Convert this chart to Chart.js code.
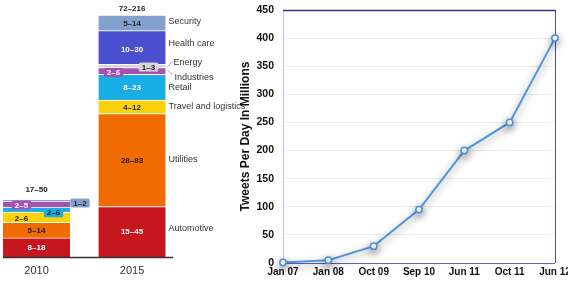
<!DOCTYPE html>
<html><head><meta charset="utf-8">
<script src="https://cdn.jsdelivr.net/npm/chart.js@4/dist/chart.umd.min.js"></script>
<style>
html,body{margin:0;padding:0;background:#fff;width:568px;height:284px;overflow:hidden}
#left{position:absolute;left:0;top:0}
#right{position:absolute;left:230px;top:0}
</style></head><body>
<canvas id="left" width="250" height="284"></canvas>
<canvas id="right" width="338" height="284"></canvas>
<script>
// ---------- Data: left stacked bar chart ----------
const years = ['2010', '2015'];
const industries = ['Automotive', 'Utilities', 'Travel and logistics', 'Retail', 'Industries', 'Energy', 'Health care', 'Security'];
const automotive = [17, 45];
const utilities = [14, 83];
const travel = [9, 12];
const retail = [4.5, 23];
const industriesVals = [5.5, 6];
const energy = [null, 3];
const healthCare = [null, 30];
const security = [1, 14];
const rangeLabels2010 = ['8–18', '5–14', '2–6', '2–6', '2–5', null, null, '1–2'];
const rangeLabels2015 = ['15–45', '28–83', '4–12', '8–23', '2–6', '1–3', '10–30', '5–14'];
const totalLabels = ['17–50', '72–216'];

// ---------- Data: right line chart ----------
const months = ['Jan 07', 'Jan 08', 'Oct 09', 'Sep 10', 'Jun 11', 'Oct 11', 'Jun 12'];
const tweetsPerDay = [1, 5, 30, 95, 200, 250, 400];
const yAxisTitle = 'Tweets Per Day In Millions';

// ---------- Left chart ----------
const FONT = '"Liberation Sans", Arial, Helvetica, sans-serif';
const series = [automotive, utilities, travel, retail, industriesVals, energy, healthCare, security];
const colors = ['#c8161e', '#f06c00', '#fdd20a', '#1aaee6', '#a650b4', '#d6d6d6', '#4b4fcf', '#84a1cd'];
const textColors = ['#fff', '#222', '#222', '#fff', '#fff', '#222', '#fff', '#222'];
const rangeLabels = [rangeLabels2010, rangeLabels2015];

// style tweaks for individual labels: key "dataset-year"
const labelStyle = {
  '2-0': {dx: -15, dy: 1},
  '3-0': {dx: 17, dy: 3, box: true, text: '#222'},
  '4-0': {dx: -15, dy: 1, box: true},
  '7-0': {outside: true, dy: 2.5, box: true},
  '4-1': {dx: -18.5, dy: 1.5, box: true},
  '5-1': {dx: 16.5, dy: 1, box: true, boxColor: '#d4d4d4'},
  '6-1': {dy: 1.5}
};
const sideOffsets = {0: -3, 1: -1, 2: 0, 3: 0, 6: -4, 7: -1};

function roundRect(ctx, x, y, w, h, r) {
  ctx.beginPath();
  ctx.moveTo(x + r, y);
  ctx.lineTo(x + w - r, y); ctx.quadraticCurveTo(x + w, y, x + w, y + r);
  ctx.lineTo(x + w, y + h - r); ctx.quadraticCurveTo(x + w, y + h, x + w - r, y + h);
  ctx.lineTo(x + r, y + h); ctx.quadraticCurveTo(x, y + h, x, y + h - r);
  ctx.lineTo(x, y + r); ctx.quadraticCurveTo(x, y, x + r, y);
  ctx.closePath();
}

const leftLabels = {
  id: 'leftLabels',
  afterDraw(chart) {
    const ctx = chart.ctx, ca = chart.chartArea, xs = chart.scales.x;
    ctx.save();
    // baseline
    ctx.strokeStyle = '#333'; ctx.lineWidth = 1.5;
    ctx.beginPath(); ctx.moveTo(ca.left, ca.bottom + 0.5); ctx.lineTo(ca.right, ca.bottom + 0.5); ctx.stroke();
    ctx.textAlign = 'center'; ctx.textBaseline = 'middle';
    // year labels
    ctx.font = '11px ' + FONT; ctx.fillStyle = '#333';
    years.forEach((y, j) => ctx.fillText(y, xs.getPixelForValue(j), ca.bottom + 14));
    // totals
    ctx.font = 'bold 8px ' + FONT; ctx.fillStyle = '#222';
    const totOff = [-10, -6];
    years.forEach((y, j) => {
      let top = ca.bottom;
      chart.data.datasets.forEach((ds, i) => {
        const el = chart.getDatasetMeta(i).data[j];
        if (ds.data[j].y != null) top = Math.min(top, el.y);
      });
      ctx.fillText(totalLabels[j], xs.getPixelForValue(j), top + totOff[j]);
    });
    // segment labels
    chart.data.datasets.forEach((ds, i) => {
      years.forEach((y, j) => {
        const txt = rangeLabels[j][i];
        if (!txt) return;
        const el = chart.getDatasetMeta(i).data[j];
        const st = labelStyle[i + '-' + j] || {};
        let cx = el.x + (st.dx || 0);
        if (st.outside) cx = el.x + el.width / 2 + 10;
        const cy = (el.y + el.base) / 2 + (st.dy || 0);
        ctx.font = 'bold 8px ' + FONT;
        if (st.box) {
          const w = ctx.measureText(txt).width + 6, h = 9;
          ctx.fillStyle = st.boxColor || colors[i];
          roundRect(ctx, cx - w / 2, cy - h / 2, w, h, 1.5);
          ctx.fill();
          if (st.outside) {
            ctx.strokeStyle = '#333'; ctx.lineWidth = 1;
            ctx.beginPath(); ctx.moveTo(el.x + el.width / 2, cy - 2); ctx.lineTo(cx - w / 2, cy - 2); ctx.stroke();
          }
        }
        ctx.fillStyle = st.text || textColors[i];
        ctx.fillText(txt, cx, cy + 0.5);
      });
    });
    // side category labels for the 2015 bar
    ctx.font = '9px ' + FONT; ctx.fillStyle = '#333'; ctx.textAlign = 'left';
    chart.data.datasets.forEach((ds, i) => {
      const el = chart.getDatasetMeta(i).data[1];
      const right = el.x + el.width / 2;
      const cy = (el.y + el.base) / 2;
      if (i === 5) {
        ctx.fillText(ds.label, right + 8, cy - 3);
        ctx.strokeStyle = '#999'; ctx.lineWidth = 0.8;
        ctx.beginPath(); ctx.moveTo(right + 2, cy + 1); ctx.lineTo(right + 7, cy - 5); ctx.stroke();
      } else if (i === 4) {
        ctx.fillText(ds.label, right + 9, cy + 6);
        ctx.strokeStyle = '#999'; ctx.lineWidth = 0.8;
        ctx.beginPath(); ctx.moveTo(right + 2, cy - 1); ctx.lineTo(right + 7, cy + 4); ctx.stroke();
      } else {
        ctx.fillText(ds.label, right + 3, cy + (sideOffsets[i] || 0));
      }
    });
    ctx.restore();
  }
};

new Chart(document.getElementById('left'), {
  type: 'bar',
  data: {
    datasets: industries.map((name, i) => ({
      label: name,
      data: series[i].map((v, j) => ({x: j, y: v})),
      backgroundColor: colors[i],
      borderColor: 'rgba(255,255,255,0.85)',
      borderWidth: {top: 1},
      borderSkipped: false,
      barThickness: 67
    }))
  },
  options: {
    responsive: false, animation: false, devicePixelRatio: 1,
    layout: {padding: {left: 3, right: 77, top: 15, bottom: 27}},
    scales: {
      x: {type: 'linear', display: false, min: -0.351, max: 1.429, stacked: true, offset: false},
      y: {display: false, stacked: true, min: 0, max: 216}
    },
    plugins: {legend: {display: false}, tooltip: {enabled: false}}
  },
  plugins: [leftLabels]
});

// ---------- Right chart ----------
const frameAndShadow = {
  id: 'frameAndShadow',
  beforeDatasetsDraw(chart) {
    const ctx = chart.ctx, a = chart.chartArea;
    ctx.save();
    ctx.lineWidth = 1;
    ctx.strokeStyle = '#cdc3f0';
    ctx.beginPath(); ctx.moveTo(a.left + 0.5, a.top); ctx.lineTo(a.left + 0.5, a.bottom); ctx.stroke();
    ctx.strokeStyle = '#6b5bc2';
    ctx.beginPath(); ctx.moveTo(a.left, a.bottom + 0.5); ctx.lineTo(a.right, a.bottom + 0.5); ctx.stroke();
    ctx.strokeStyle = '#5646a8';
    ctx.beginPath(); ctx.moveTo(a.right + 0.5, a.top); ctx.lineTo(a.right + 0.5, a.bottom); ctx.stroke();
    ctx.strokeStyle = '#3a2c8a'; ctx.lineWidth = 1.5;
    ctx.beginPath(); ctx.moveTo(a.left, a.top + 0.5); ctx.lineTo(a.right + 1, a.top + 0.5); ctx.stroke();
    ctx.restore();
    ctx.save();
    ctx.shadowColor = 'rgba(0,0,0,0.45)';
    ctx.shadowBlur = 9;
    ctx.shadowOffsetY = 3;
  },
  afterDatasetsDraw(chart) {
    chart.ctx.restore();
  }
};

new Chart(document.getElementById('right'), {
  type: 'line',
  data: {
    labels: months,
    datasets: [{
      data: tweetsPerDay,
      borderColor: '#5197de',
      borderWidth: 2,
      pointBackgroundColor: '#ffffff',
      pointBorderColor: '#4a90dc',
      pointBorderWidth: 1.5,
      pointRadius: 3.2,
      tension: 0,
      clip: false
    }]
  },
  options: {
    responsive: false, animation: false, devicePixelRatio: 1,
    layout: {padding: {top: 10, right: 13, left: 0, bottom: 0}},
    scales: {
      x: {
        offset: false,
        grid: {display: false, drawTicks: false},
        border: {display: false},
        ticks: {font: {family: FONT, size: 10, weight: 'bold'}, color: '#111', padding: 3, maxRotation: 0, autoSkip: false},
        afterFit(s) { s.height = 21; s.paddingLeft = 0; s.paddingRight = 0; }
      },
      y: {
        min: 0, max: 450,
        ticks: {stepSize: 50, font: {family: FONT, size: 10.5, weight: 'bold'}, color: '#111', padding: 9},
        grid: {color: '#ececec', drawTicks: false},
        border: {display: false},
        title: {display: true, text: yAxisTitle, font: {family: FONT, size: 12, weight: 'bold'}, color: '#111', padding: {top: 8, bottom: 0}},
        afterFit(s) { s.width = 53; s.paddingTop = 0; s.paddingBottom = 0; }
      }
    },
    plugins: {legend: {display: false}, tooltip: {enabled: false}}
  },
  plugins: [frameAndShadow]
});
</script>
</body></html>
